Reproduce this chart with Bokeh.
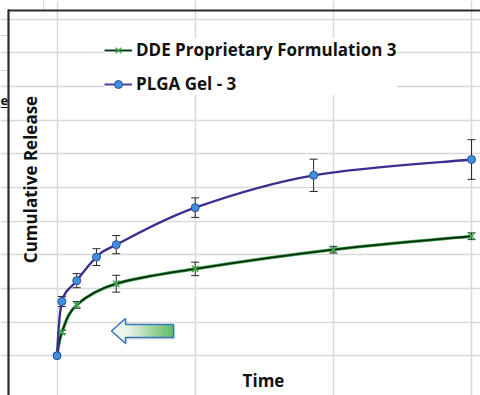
import math
from bokeh.plotting import figure
from bokeh.models import (ColumnDataSource, Grid, FixedTicker, Whisker, TeeHead,
                          Legend, LegendItem, Range1d)
from bokeh.core.properties import value
from bokeh.embed import file_html
from bokeh.resources import INLINE

# ---------------- data ----------------
series_labels = ["DDE Proprietary Formulation 3", "PLGA Gel - 3"]
x_title = "Time"
y_title = "Cumulative Release"

dde_time = [0, 0.25, 1, 3, 7, 14, 21]
dde_release = [0, 7.0, 15.1, 21.4, 25.8, 31.5, 35.5]
dde_err = [0, 0.5, 1.0, 2.5, 2.0, 1.0, 1.0]

plga_time = [0, 0.25, 1, 2, 3, 7, 13, 21]
plga_release = [0, 16.1, 22.3, 29.3, 33.0, 44.0, 53.6, 58.3]
plga_err = [0, 1.5, 2.1, 2.5, 2.7, 2.9, 4.8, 5.9]

x_gridlines = [0, 7, 14, 21]
y_gridlines = [0, 10, 20, 30, 40, 50, 60, 70, 80, 90, 100]

# ---------------- layout ----------------
W, H = 480, 395
PX_X0, PX_PER_X = 56.5, 19.74
PX_Y0, PX_PER_Y = 355.2, 3.365
FONT = "Open Sans"


def dx(px):
    return (px - PX_X0) / PX_PER_X


def dy(py):
    return (PX_Y0 - py) / PX_PER_Y


p = figure(width=W, height=H, x_range=Range1d(dx(0), dx(W)), y_range=Range1d(dy(H), dy(0)),
           x_axis_type=None, y_axis_type=None, toolbar_location=None,
           output_backend="svg", min_border=0, outline_line_color=None,
           background_fill_color="white", border_fill_color="white")

# gridlines
vg = Grid(dimension=0, ticker=FixedTicker(ticks=x_gridlines), bounds=(0, 100),
          grid_line_color="#D9D9D9", grid_line_width=1.5)
hg = Grid(dimension=1, ticker=FixedTicker(ticks=y_gridlines), bounds=(0, 21),
          grid_line_color="#D9D9D9", grid_line_width=1.5)
p.add_layout(vg)
p.add_layout(hg)


def smooth(xs, ys):
    n = len(xs)
    out = {k: [] for k in ("x0", "y0", "x1", "y1", "cx0", "cy0", "cx1", "cy1")}
    for i in range(n - 1):
        a = max(i - 1, 0)
        b = min(i + 2, n - 1)
        out["x0"].append(xs[i]); out["y0"].append(ys[i])
        out["x1"].append(xs[i + 1]); out["y1"].append(ys[i + 1])
        out["cx0"].append(xs[i] + (xs[i + 1] - xs[a]) / 6)
        out["cy0"].append(ys[i] + (ys[i + 1] - ys[a]) / 6)
        out["cx1"].append(xs[i + 1] - (xs[b] - xs[i]) / 6)
        out["cy1"].append(ys[i + 1] - (ys[b] - ys[i]) / 6)
    return ColumnDataSource(out)


bz = dict(x0="x0", y0="y0", x1="x1", y1="y1", cx0="cx0", cy0="cy0", cx1="cx1", cy1="cy1")

dde_src = smooth(dde_time, dde_release)
plga_src = smooth(plga_time, plga_release)

p.bezier(source=dde_src, line_color="#3DAA4A", line_width=3.2, **bz)
p.bezier(source=dde_src, line_color="#0B2A12", line_width=1.8, **bz)
p.bezier(source=plga_src, line_color="#3B2F8F", line_width=2.4, **bz)


def err_source(t, r, e):
    keep = [i for i in range(len(t)) if e[i] > 0]
    return ColumnDataSource(dict(base=[t[i] for i in keep],
                                 upper=[r[i] + e[i] for i in keep],
                                 lower=[r[i] - e[i] for i in keep]))


for t, r, e in ((dde_time, dde_release, dde_err), (plga_time, plga_release, plga_err)):
    w = Whisker(source=err_source(t, r, e), base="base", upper="upper", lower="lower",
                dimension="height", line_color="#262626", line_width=1,
                upper_head=TeeHead(size=8, line_color="#262626", line_width=1),
                lower_head=TeeHead(size=8, line_color="#262626", line_width=1))
    p.add_layout(w)

dde_pts = p.scatter(dde_time, dde_release, marker="x", size=9,
                    line_color="#3DAA4A", line_width=1.5)
plga_pts = p.scatter(plga_time, plga_release, marker="circle", size=8,
                     fill_color="#3D8FDB", line_color="#2F4F9F", line_width=1)

# legend (line swatches use renderers placed outside the visible range)
off_x = [dx(-100), dx(-90)]
off_y = [dy(-100), dy(-100)]
dde_leg = p.line(off_x, off_y, line_color="#0B3A16", line_width=2)
plga_leg = p.line(off_x, off_y, line_color="#4A3F9E", line_width=2)
legend = Legend(items=[LegendItem(label=series_labels[0], renderers=[dde_leg, dde_pts]),
                       LegendItem(label=series_labels[1], renderers=[plga_leg, plga_pts])],
                location=(104, H - 95), padding=5, spacing=11, margin=0,
                glyph_width=28, glyph_height=20, label_height=20, label_standoff=4,
                label_text_font=FONT, label_text_font_style="bold",
                label_text_font_size="17px", label_text_color="#111111",
                border_line_color=None, background_fill_color="white",
                background_fill_alpha=1.0)
p.add_layout(legend)

# arrow (decoration) in pixel coordinates
tip, hx, rx = 111, 125, 173
cy, hh, bh = 330.5, 12.5, 6.5
shape = [(tip, cy), (hx, cy - hh), (hx, cy - bh), (rx, cy - bh), (rx, cy + bh), (hx, cy + bh), (hx, cy + hh)]
p.patch([dx(a + 2) for a, b in shape], [dy(b + 2) for a, b in shape],
        fill_color="#888888", fill_alpha=0.25, line_color=None)
p.patch([dx(tip), dx(hx), dx(hx)], [dy(cy), dy(cy - hh), dy(cy + hh)],
        fill_color="#EEF7EE", line_color=None)
c0 = (0xEE, 0xF7, 0xEE)
c1 = (0x5A, 0xBA, 0x5F)
nstrip = 16
for k in range(nstrip):
    f = (k + 0.5) / nstrip
    col = "#%02x%02x%02x" % tuple(int(round(c0[j] + (c1[j] - c0[j]) * f)) for j in range(3))
    xa = hx + (rx - hx) * k / nstrip
    xb = hx + (rx - hx) * (k + 1) / nstrip + 0.3
    p.quad(left=dx(xa), right=dx(xb), bottom=dy(cy + bh), top=dy(cy - bh),
           fill_color=col, line_color=None)
p.patch([dx(a) for a, b in shape], [dy(b) for a, b in shape],
        fill_alpha=0, line_color="#3A75B8", line_width=1.5)

# axis titles
p.text(x=[dx(263)], y=[dy(380)], text=[x_title], text_align="center", text_baseline="middle",
       text_font=value(FONT), text_font_style="bold", text_font_size="17px", text_color="#111111")
p.text(x=[dx(30)], y=[dy(179)], text=[y_title], angle=math.pi / 2, text_align="center",
       text_baseline="middle", text_font=value(FONT), text_font_style="bold",
       text_font_size="17px", text_color="#111111")

# surrounding spreadsheet / chart frame decorations
p.segment(x0=[dx(0), dx(0)], y0=[dy(35), dy(70)], x1=[dx(7), dx(7)], y1=[dy(35), dy(70)],
          line_color="#D4D4D4", line_width=1)
p.segment(x0=[dx(43)], y0=[dy(0)], x1=[dx(43)], y1=[dy(9)], line_color="#D4D4D4", line_width=1)
p.segment(x0=[dx(0)], y0=[dy(107)], x1=[dx(7)], y1=[dy(107)], line_color="#000000", line_width=1)
p.text(x=[dx(0)], y=[dy(100)], text=["e"], text_align="left", text_baseline="alphabetic",
       text_font=value(FONT), text_font_style="bold", text_font_size="13px", text_color="#111111")
p.segment(x0=[dx(7.5), dx(8)], y0=[dy(10), dy(9)], x1=[dx(480), dx(8)], y1=[dy(10), dy(395)],
          line_color="#2B2B2B", line_width=2.2)

open("out.html", "w").write(file_html(p, INLINE))
